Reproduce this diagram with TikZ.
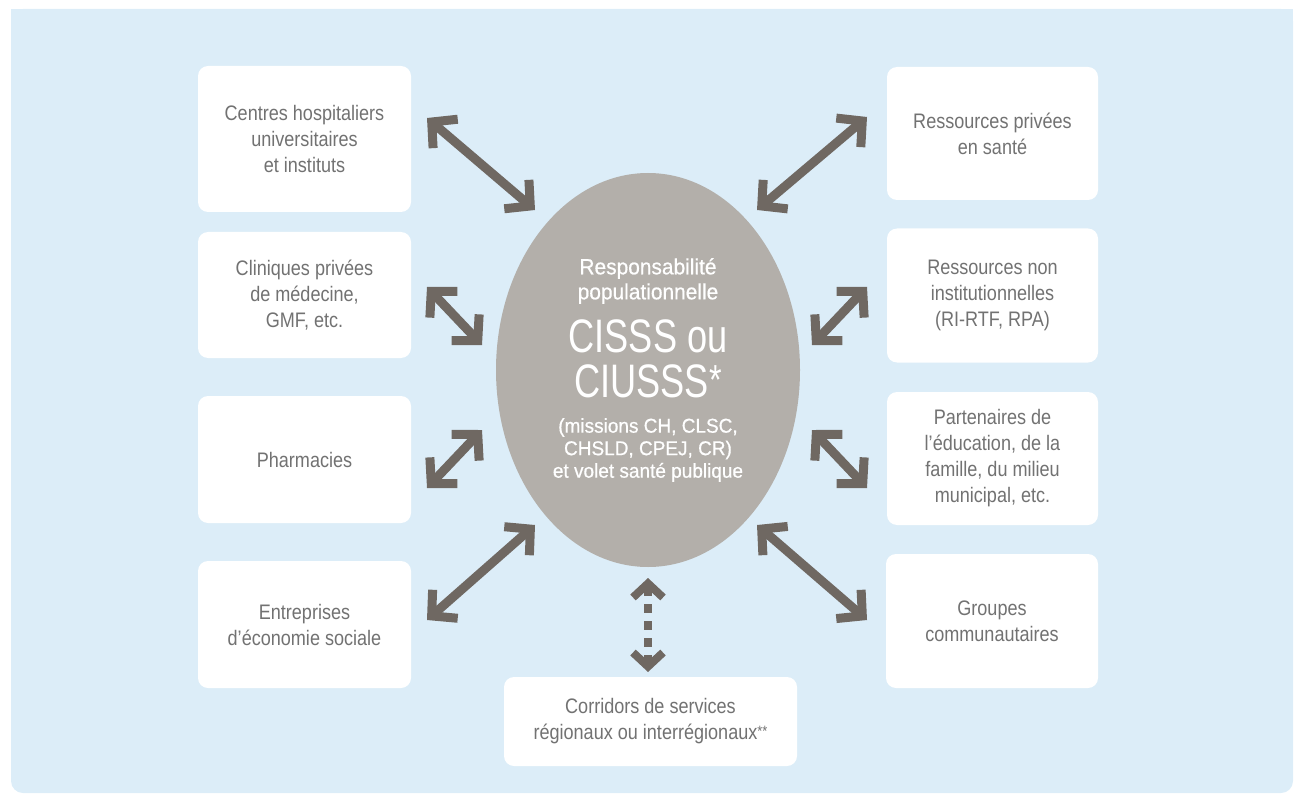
\documentclass[tikz,border=0pt]{standalone}
\usepackage{fontspec}
\setmainfont{Liberation Sans}[FakeStretch=0.86]
\newfontfamily\ellfont{Liberation Sans}[FakeStretch=0.95, FakeBold=0.6]
\newfontfamily\bigfont{Liberation Sans}[FakeStretch=0.77]
\usetikzlibrary{arrows.meta,shapes.geometric}
\definecolor{bgblue}{HTML}{DCEDF8}
\definecolor{ellgray}{HTML}{B3AFAA}
\definecolor{arrowc}{HTML}{6F6862}
\definecolor{boxtext}{HTML}{727272}
\tikzset{
  mybarb/.tip={Straight Barb[length=18pt,width=38pt,line cap=butt,line join=miter]},
  mysmallbarb/.tip={Straight Barb[length=14pt,width=30pt,line cap=butt,line join=miter]},
  partbox/.style={rectangle, rounded corners=10pt, fill=white, draw=none,
    align=center, text=boxtext, inner sep=0pt,
    font=\fontsize{21}{26}\selectfont},
  biarrow/.style={line width=9pt, draw=arrowc, {mybarb}-{mybarb}},
  dasharrow/.style={line width=8pt, draw=arrowc, dash pattern=on 9pt off 8pt, {mysmallbarb}-{mysmallbarb}},
  elltext/.style={text=white, align=center, inner sep=0pt},
  bigtext/.style={elltext, font=\bigfont\fontsize{47}{43}\selectfont, text height=34pt, text depth=1pt}
}
\begin{document}
\begin{tikzpicture}[x=1pt,y=-1pt]
\useasboundingbox (0,0) rectangle (1295,794);
\fill[bgblue, rounded corners=12pt] (11,9) rectangle (1293,793);
\fill[bgblue] (11,9) rectangle (1293,400);

% left boxes
\node[partbox, minimum width=213pt, minimum height=146pt] (L1) at (304.5,139) {Centres hospitaliers\\universitaires\\et instituts};
\node[partbox, minimum width=213pt, minimum height=126pt] (L2) at (304.5,295) {Cliniques privées\\de médecine,\\GMF, etc.};
\node[partbox, minimum width=213pt, minimum height=127pt] (L3) at (304.5,459.5) {Pharmacies};
\node[partbox, minimum width=213pt, minimum height=127pt] (L4) at (304.5,624.5) {Entreprises\\d’économie sociale};
% right boxes
\node[partbox, minimum width=211pt, minimum height=133pt] (R1) at (992.5,133.5) {Ressources privées\\en santé};
\node[partbox, minimum width=211pt, minimum height=134pt] (R2) at (992.5,295.5) {Ressources non\\institutionnelles\\(RI-RTF, RPA)};
\node[partbox, minimum width=211pt, minimum height=133pt] (R3) at (992.5,458.5) {Partenaires de\\l’éducation, de la\\famille, du milieu\\municipal, etc.};
\node[partbox, minimum width=212pt, minimum height=134pt] (R4) at (992,621) {Groupes\\communautaires};
% bottom box
\node[partbox, minimum width=293pt, minimum height=89pt] (B) at (650.5,721.5) {Corridors de services\\régionaux ou interrégionaux\raisebox{3pt}{\fontsize{15}{15}\selectfont **}};

% central ellipse
\node[ellipse, fill=ellgray, draw=none, minimum width=304pt, minimum height=394pt, inner sep=0pt] (C) at (648,370) {};
\node[elltext, font=\ellfont\fontsize{22}{25}\selectfont] (Ct) at (648,281) {Responsabilité\\populationnelle};
\node[bigtext] (Cb1) at (648,336) {CISSS ou};
\node[bigtext] (Cb2) at (648,381) {CIUSSS\raisebox{3pt}{\fontsize{42}{42}\selectfont *}};
\node[elltext, font=\ellfont\fontsize{20}{22.5}\selectfont] (Cs) at (648,450) {(missions CH, CLSC,\\CHSLD, CPEJ, CR)\\et volet santé publique};

% arrow end points
\coordinate (a1) at (427,118); \coordinate (b1) at (535,210);
\coordinate (a2) at (427,287); \coordinate (b2) at (482,345);
\coordinate (a3) at (427,488); \coordinate (b3) at (482,430);
\coordinate (a4) at (427,620); \coordinate (b4) at (535,525);
\coordinate (a5) at (867,117); \coordinate (b5) at (757,210);
\coordinate (a6) at (867,287); \coordinate (b6) at (812,345);
\coordinate (a7) at (867,488); \coordinate (b7) at (812,430);
\coordinate (a8) at (867,620); \coordinate (b8) at (757,525);
\coordinate (d1) at (648,578); \coordinate (d2) at (648,672);

\foreach \i in {1,...,8} { \draw[biarrow] (a\i) -- (b\i); }
\draw[dasharrow] (d1) -- (d2);
\end{tikzpicture}
\end{document}
